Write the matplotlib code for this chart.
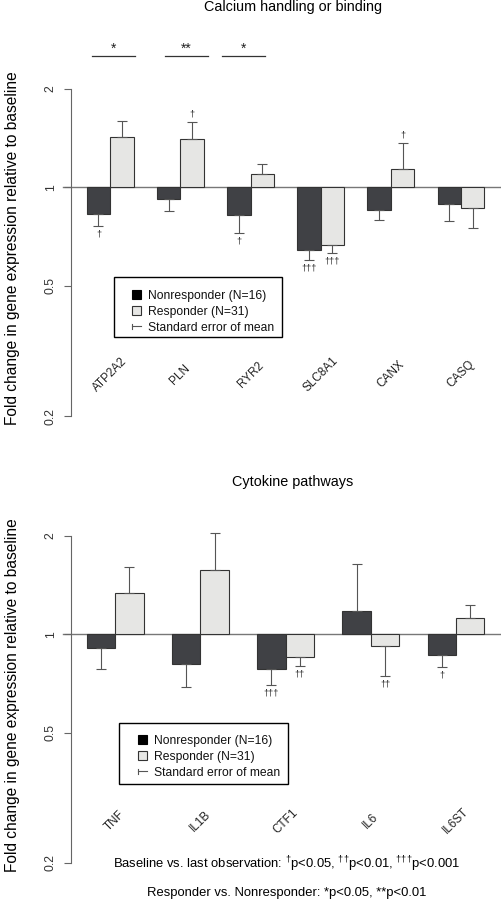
import matplotlib
matplotlib.use('Agg')
import matplotlib.pyplot as plt
import numpy as np
from matplotlib.lines import Line2D
from matplotlib.patches import Rectangle

plt.rcParams['font.family'] = ['Liberation Sans', 'DejaVu Sans']
plt.rcParams['mathtext.fontset'] = 'custom'
plt.rcParams['mathtext.rm'] = 'Liberation Sans'

# fold change (mean) and end of the SEM whisker
calcium_genes = ['ATP2A2', 'PLN', 'RYR2', 'SLC8A1', 'CANX', 'CASQ']
calcium_nonresp = [0.831, 0.919, 0.823, 0.642, 0.855, 0.887]
calcium_nonresp_sem = [0.762, 0.849, 0.723, 0.601, 0.795, 0.789]
calcium_resp = [1.422, 1.406, 1.096, 0.669, 1.135, 0.867]
calcium_resp_sem = [1.60, 1.58, 1.179, 0.631, 1.367, 0.753]
calcium_nonresp_marks = ['†', '', '†', '†††', '', '']
calcium_resp_marks = ['', '†', '', '†††', '†', '']
calcium_stars = ['*', '**', '*', '', '', '']

cytokine_genes = ['TNF', 'IL1B', 'CTF1', 'IL6', 'IL6ST']
cytokine_nonresp = [0.904, 0.811, 0.785, 1.181, 0.861]
cytokine_nonresp_sem = [0.782, 0.689, 0.698, 1.64, 0.791]
cytokine_resp = [1.332, 1.573, 0.852, 0.917, 1.117]
cytokine_resp_sem = [1.606, 2.04, 0.80, 0.743, 1.227]
cytokine_nonresp_marks = ['', '', '†††', '', '†']
cytokine_resp_marks = ['', '', '††', '††', '']
cytokine_stars = ['', '', '', '', '']

legend_labels = ['Nonresponder (N=16)', 'Responder (N=31)', 'Standard error of mean']

DARK = '#404145'
LIGHT = '#e6e6e4'
EDGE = '#333333'
GREY = '#555555'

fig = plt.figure(figsize=(5.01, 9.0), dpi=100)
W, H = 501.0, 900.0


def fx(x):
    return x / W


def fy(y):
    return 1 - y / H


def draw_key(box, hx, rows):
    x0, y0, x1, y1 = box
    fig.add_artist(Rectangle((fx(x0), fy(y1)), fx(x1 - x0), (y1 - y0) / H,
                             transform=fig.transFigure, fill=False,
                             edgecolor='black', lw=1.0))
    s = 9.3
    fig.add_artist(Rectangle((fx(hx), fy(rows[0] + s / 2)), s / W, s / H,
                             transform=fig.transFigure, facecolor='black',
                             edgecolor='black', lw=0.8))
    fig.add_artist(Rectangle((fx(hx), fy(rows[1] + s / 2)), s / W, s / H,
                             transform=fig.transFigure, facecolor=LIGHT,
                             edgecolor=EDGE, lw=0.8))
    fig.add_artist(Line2D([fx(hx), fx(hx + s)], [fy(rows[2]), fy(rows[2])],
                          transform=fig.transFigure, color=GREY, lw=0.8))
    fig.add_artist(Line2D([fx(hx), fx(hx)], [fy(rows[2] - 2.5), fy(rows[2] + 2.5)],
                          transform=fig.transFigure, color=GREY, lw=0.8))
    for r, lab in zip(rows, legend_labels):
        fig.text(fx(hx + s + 7), fy(r), lab, ha='left', va='center_baseline',
                 fontsize=8.7, color='#111111')


def panel(top_px, genes, nr, nr_sem, r, r_sem, nr_marks, r_marks, stars,
          title, title_y):
    ax_h = 353.2
    ax = fig.add_axes([fx(70.8), fy(top_px + ax_h), 429.6 / W, ax_h / H])
    ax.patch.set_alpha(0)
    n = len(genes)
    x_nr = 1.5 + 3 * np.arange(n)
    x_r = x_nr + 1
    nr = np.array(nr)
    r = np.array(r)
    nr_sem = np.array(nr_sem)
    r_sem = np.array(r_sem)

    ax.set_yscale('log')
    ax.set_ylim(0.2 / 10 ** 0.04, 2 * 10 ** 0.04)
    span = 3 * n - 1
    ax.set_xlim(1 - 0.04 * span, 3 * n + 0.04 * span)

    ax.axhline(1, xmin=-0.0175, xmax=1.0, color='#777777', lw=1.0,
               clip_on=False, zorder=1)

    for xs, vals, sem, col, marks in [(x_nr, nr, nr_sem, DARK, nr_marks),
                                      (x_r, r, r_sem, LIGHT, r_marks)]:
        ax.bar(xs, vals - 1, bottom=1, width=1, color=col, edgecolor=EDGE,
               lw=0.8, zorder=2)
        lower = np.where(vals < 1, vals - sem, 0)
        upper = np.where(vals >= 1, sem - vals, 0)
        ax.errorbar(xs, vals, yerr=[lower, upper], fmt='none', ecolor=GREY,
                    elinewidth=0.8, capsize=3.5, capthick=0.8, zorder=3)
        for x, v, s, m in zip(xs, vals, sem, marks):
            if not m:
                continue
            if v < 1:
                ax.annotate(m, (x, s), xytext=(0, -2.5), textcoords='offset points',
                            ha='center', va='top', fontsize=6.5, color='#222222')
            else:
                ax.annotate(m, (x, s), xytext=(0, 2.5), textcoords='offset points',
                            ha='center', va='bottom', fontsize=6.5, color='#222222')

    # responder vs nonresponder brackets
    star_shift = [0.13, 0.26, -0.30, 0, 0, 0]
    for i, s in enumerate(stars):
        if not s:
            continue
        c = x_r[i] - 0.5 + star_shift[i]
        ax.plot([c - 0.92, c + 0.92], [2.515, 2.515], color='#333333', lw=0.9,
                clip_on=False)
        ax.annotate(s, (c, 2.515), xytext=(0, 0.5), textcoords='offset points',
                    ha='center', va='bottom', fontsize=10, color='#222222',
                    annotation_clip=False)

    for x, g in zip(x_r - 0.5, genes):
        ax.text(x, 0.268, g, rotation=45, ha='center', va='center', fontsize=8.5,
                color='#222222')

    for side in ['top', 'right', 'bottom']:
        ax.spines[side].set_visible(False)
    ax.spines['left'].set_bounds(0.2, 2)
    ax.spines['left'].set_color('#666666')
    ax.set_xticks([])
    ax.set_yticks([0.2, 0.5, 1, 2])
    ax.set_yticklabels(['0.2', '0.5', '1', '2'], rotation=90, va='center',
                       fontsize=8.8, color='#333333')
    ax.minorticks_off()
    ax.tick_params(axis='y', length=5.2, pad=5, color='#666666')

    fig.text(fx(292.5), fy(title_y), title, ha='center', va='center',
             fontsize=10.4)
    fig.text(fx(13), fy(top_px + 172.6),
             'Fold change in gene expression relative to baseline',
             rotation=90, ha='center', va='center', fontsize=11.2)
    return ax


panel(75.9, calcium_genes, calcium_nonresp, calcium_nonresp_sem, calcium_resp,
      calcium_resp_sem, calcium_nonresp_marks, calcium_resp_marks, calcium_stars,
      'Calcium handling or binding', 6.5)
draw_key((113.8, 277.3, 282, 337), 131.7, [294.3, 310.7, 326.3])

panel(522.6, cytokine_genes, cytokine_nonresp, cytokine_nonresp_sem, cytokine_resp,
      cytokine_resp_sem, cytokine_nonresp_marks, cytokine_resp_marks, cytokine_stars,
      'Cytokine pathways', 482.3)
draw_key((119.3, 722.5, 288, 784), 137.8, [739.3, 755.7, 771])

fig.text(fx(287), fy(864),
         'Baseline vs. last observation: $^{†}$p<0.05, $^{††}$p<0.01, '
         '$^{†††}$p<0.001', ha='center', va='center', fontsize=9.4)
fig.text(fx(286.5), fy(893), 'Responder vs. Nonresponder: *p<0.05, **p<0.01',
         ha='center', va='center', fontsize=9.4)

fig.savefig('out.png', dpi=100)
